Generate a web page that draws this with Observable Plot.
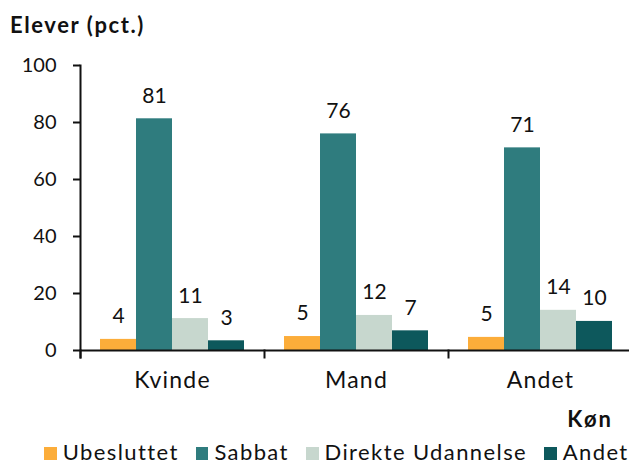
<!DOCTYPE html>
<html>
<head>
<meta charset="utf-8">
<script src="https://cdn.jsdelivr.net/npm/d3@7"></script>
<script src="https://cdn.jsdelivr.net/npm/@observablehq/plot@0.6"></script>
<style>
  html, body { margin: 0; padding: 0; background: #fff; }
  #wrap { position: relative; width: 629px; height: 464px; font-family: Lato, "Noto Sans", sans-serif; color: #111; }
  #title { position: absolute; left: 10px; top: 14px; font-size: 22px; line-height: 22px; font-weight: bold; letter-spacing: 1.6px; white-space: nowrap; }
  #chart { position: absolute; left: 0; top: 0; }
  #xlabel { position: absolute; right: 16px; top: 408px; font-size: 22px; line-height: 22px; font-weight: bold; letter-spacing: 2px; white-space: nowrap; }
  #legend { position: absolute; left: 44px; top: 437.5px; font-size: 22px; line-height: normal; white-space: nowrap; letter-spacing: 1.4px; }
  #legend .item { margin-right: 17px; }
  #legend .sw { display: inline-block; width: 12.7px; height: 12.7px; margin-right: 6px; vertical-align: baseline; }
  #chart svg g[aria-label="fx-axis tick label"] text { letter-spacing: 1.2px; }
</style>
</head>
<body>
<div id="wrap">
  <div id="chart"></div>
  <div id="title">Elever (pct.)</div>
  <div id="xlabel">Køn</div>
  <div id="legend"></div>
</div>
<script>
// Categories (x groups) and series
const groups = ["Kvinde", "Mand", "Andet"];
const series = ["Ubesluttet", "Sabbat", "Direkte Udannelse", "Andet"];
const colors = ["#FCAD3A", "#2F7C7E", "#C7D7CE", "#0D585C"];

// Series values (percent), one per group
const ubesluttet = [3.9, 4.9, 4.6];
const sabbat = [81.3, 76.0, 71.1];
const direkteUdannelse = [11.2, 12.3, 14.1];
const andet = [3.4, 6.9, 10.2];

// Y tick labels
const yTicks = [0, 20, 40, 60, 80, 100];

const seriesValues = [ubesluttet, sabbat, direkteUdannelse, andet];
const data = groups.flatMap((g, i) =>
  series.map((s, j) => ({ group: g, series: s, value: seriesValues[j][i] }))
);

const ink = "#111";

const chart = Plot.plot({
  width: 629,
  height: 430,
  marginLeft: 79,
  marginRight: -3.5,
  marginTop: 65,
  marginBottom: 80,
  style: { fontFamily: "Lato, 'Noto Sans', sans-serif", color: ink, background: "transparent", overflow: "visible" },
  fx: { domain: groups, padding: 0, label: null },
  x: { domain: series, paddingInner: 0, paddingOuter: 0.5, axis: null },
  y: { domain: [0, 100], label: null },
  color: { domain: series, range: colors },
  marks: [
    Plot.barY(data, { fx: "group", x: "series", y: "value", fill: "series" }),
    Plot.text(data, {
      fx: "group", x: "series", y: "value",
      text: d => d3.format(".0f")(d.value),
      lineAnchor: "top", dy: -31, fontSize: 21, fill: ink
    }),
    Plot.ruleY([0], { stroke: ink, strokeWidth: 2 }),
    Plot.frame({ anchor: "left", facetAnchor: "left", insetBottom: -7, stroke: ink, strokeWidth: 2 }),
    Plot.frame({ anchor: "left", insetTop: 285, insetBottom: -7, stroke: ink, strokeWidth: 2 }),
    Plot.axisY({ ticks: yTicks, tickSize: 7, tickPadding: 17, strokeWidth: 2, fontSize: 20, label: null, stroke: ink, fill: ink }),
    Plot.axisFx({ anchor: "bottom", tickSize: 0, tickPadding: 21, fontSize: 23, label: null, fill: ink })
  ]
});
document.getElementById("chart").appendChild(chart);

// Legend
const legend = document.getElementById("legend");
series.forEach((s, j) => {
  const item = document.createElement("span");
  item.className = "item";
  const sw = document.createElement("span");
  sw.className = "sw";
  sw.style.background = colors[j];
  item.appendChild(sw);
  item.appendChild(document.createTextNode(s));
  legend.appendChild(item);
});
</script>
</body>
</html>
